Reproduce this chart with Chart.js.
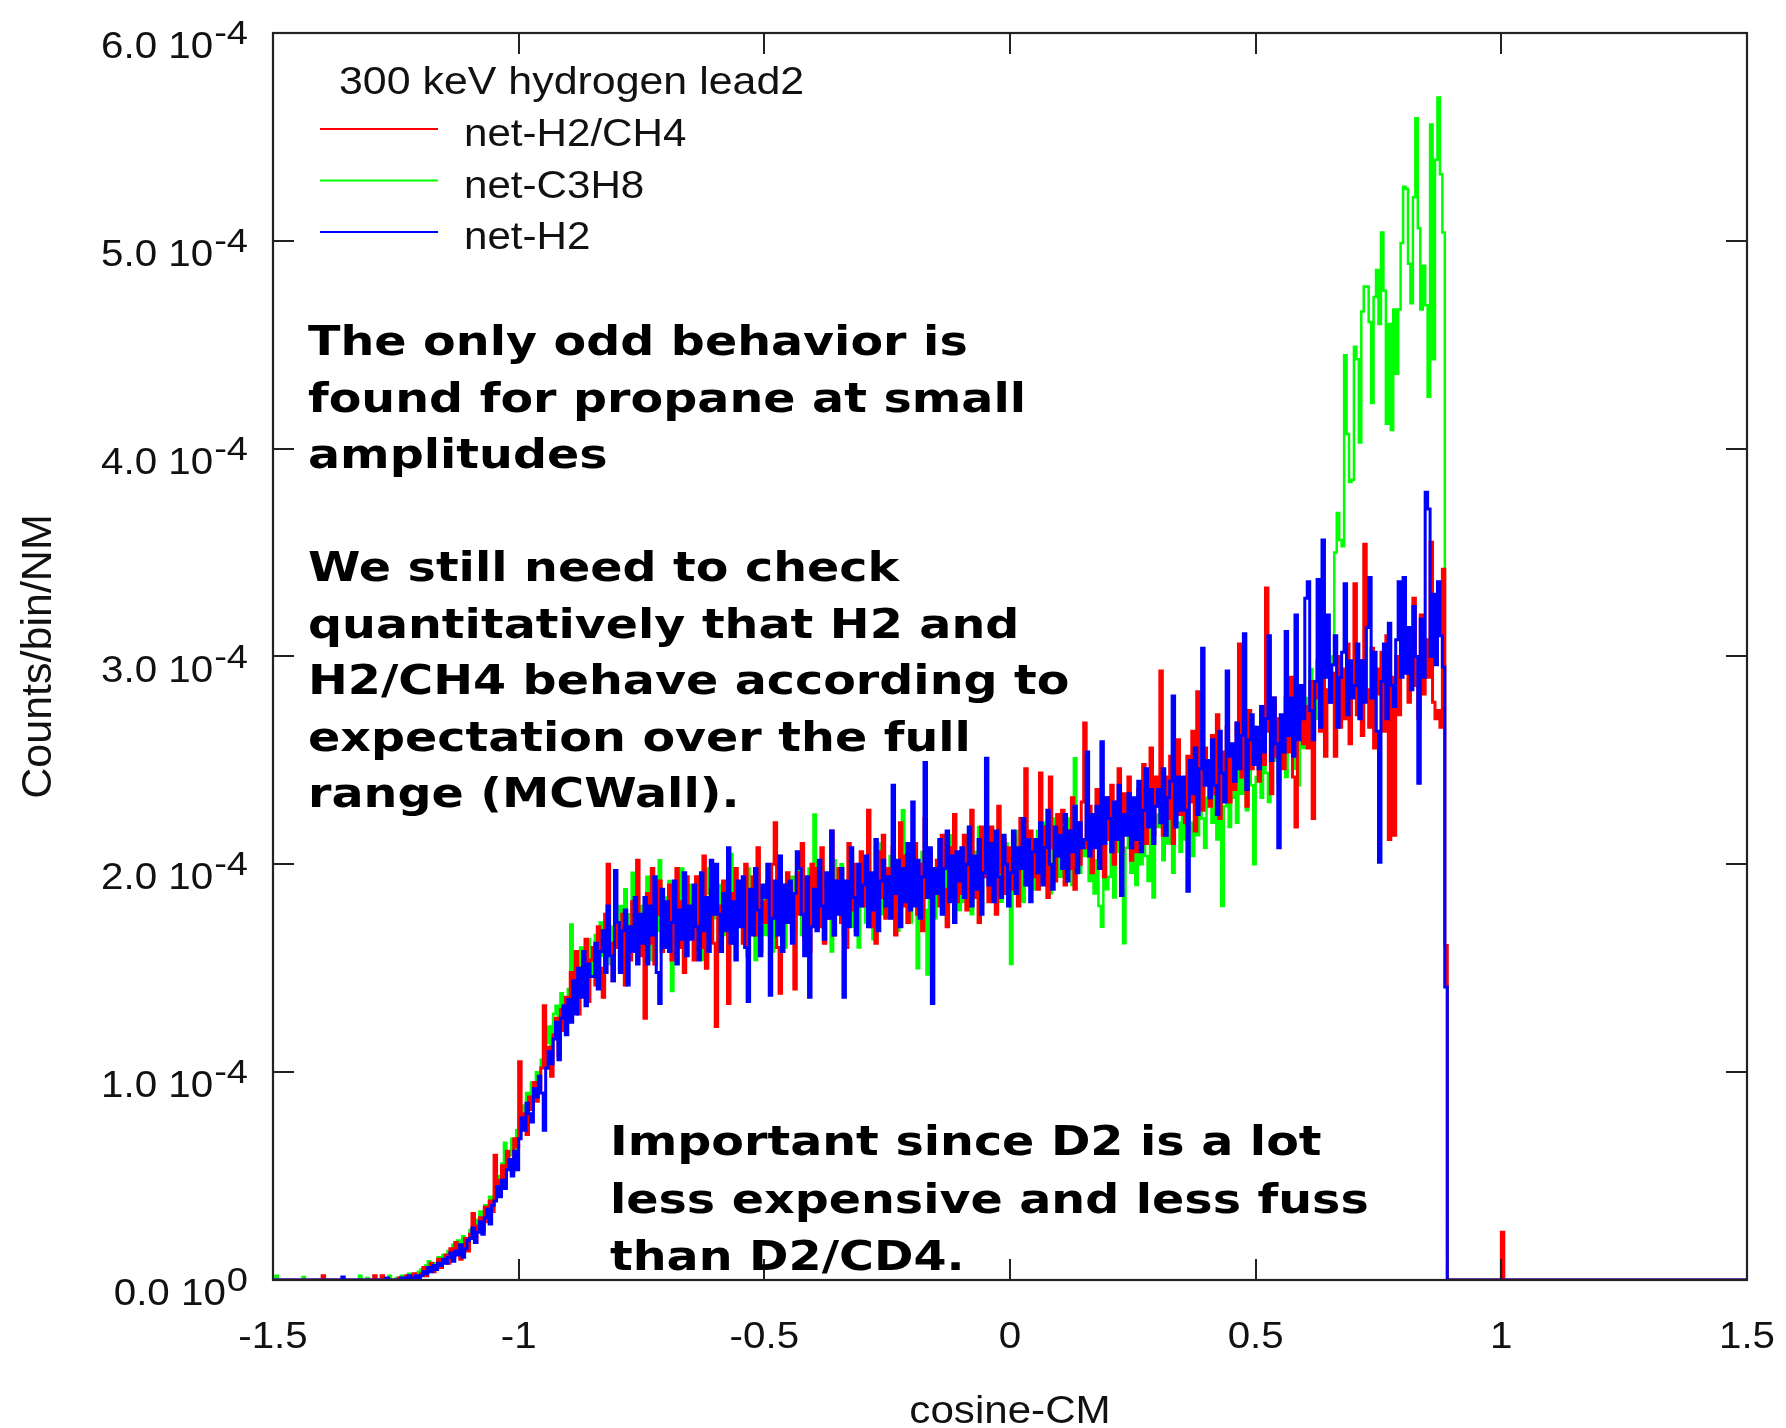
<!DOCTYPE html>
<html><head><meta charset="utf-8">
<script src="https://cdn.jsdelivr.net/npm/chart.js@4.4.1/dist/chart.umd.min.js"></script>
<style>html,body{margin:0;padding:0;background:#fff;} #wrap{width:1786px;height:1428px;position:relative;}</style>
</head><body><div id="wrap"><canvas id="c"></canvas></div>
<script>
// histogram bins: left edges start at cosStart, width cosStep; values in units of 1e-4
const cosStart = -1.5;
const cosStep = 0.005;
const valueUnit = 1e-4;

const netH2CH4 = [
0,0,0,0,0,0,0,0,0,0,
0,0,0,0,0,0,0,0,0,0,
0.02,0,0,0,0,0,0,0,0,0,
0,0,0,0,0,0,0,0,0,0,
0,0.02,0,0,0.02,0,0,0,0,0,
0,0.01,0,0,0.02,0,0.01,0.03,0.01,0.02,
0.03,0.06,0.02,0.05,0.08,0.04,0.07,0.10,0.06,0.09,
0.12,0.08,0.15,0.11,0.18,0.13,0.10,0.16,0.20,0.14,
0.22,0.32,0.18,0.26,0.30,0.24,0.35,0.28,0.38,0.33,
0.60,0.42,0.48,0.55,0.46,0.62,0.58,0.52,0.68,0.64,
1.05,0.74,0.80,0.70,0.88,0.82,0.95,0.86,0.92,1.02,
1.32,1.02,1.12,0.98,1.18,1.26,1.08,1.30,1.20,1.36,
1.26,1.48,1.36,1.58,1.28,1.50,1.40,1.64,1.34,1.54,
1.60,1.42,1.70,1.50,1.36,1.76,2.00,1.62,1.44,1.72,
1.60,1.50,1.76,1.42,1.70,1.54,1.82,1.64,2.02,1.56,
1.74,1.26,1.86,1.62,1.98,1.52,1.76,1.92,1.58,1.70,
1.66,1.90,1.54,1.78,1.98,1.60,1.82,1.48,1.94,1.70,
1.78,1.54,1.94,1.68,1.60,2.04,1.50,1.80,1.88,1.62,
1.22,1.80,1.66,1.92,1.70,1.33,1.86,1.62,1.98,1.76,
1.86,1.62,2.00,1.56,1.78,1.94,1.66,2.08,1.58,1.82,
1.72,1.92,1.66,2.00,2.20,1.60,1.38,1.88,1.74,1.96,
1.90,1.68,1.40,1.96,1.76,2.10,1.64,1.92,1.58,2.00,
1.76,1.98,1.70,2.08,1.62,1.88,1.74,2.16,1.66,1.92,
1.98,1.72,1.88,1.60,2.10,1.78,2.00,1.68,1.92,2.06,
1.80,2.02,2.26,1.70,1.94,1.62,2.06,1.84,2.14,1.74,
1.98,1.76,2.08,1.66,1.94,2.20,1.80,2.04,1.72,1.90,
1.86,2.10,1.76,2.00,1.68,2.22,1.84,2.06,1.74,1.98,
2.02,1.80,2.14,1.88,1.70,2.08,1.92,2.24,1.82,2.04,
1.86,2.14,1.78,2.04,2.26,1.84,2.00,1.72,2.18,1.94,
2.06,1.82,2.18,1.92,1.76,2.28,1.96,2.12,1.86,2.08,
1.88,2.14,2.00,1.80,2.22,2.02,2.46,1.90,2.16,1.94,
2.10,1.88,2.44,1.98,2.18,1.84,2.42,2.08,1.92,2.24,
2.04,2.26,1.90,2.16,1.98,2.32,1.88,2.20,2.00,2.30,
2.68,2.08,2.28,1.96,2.20,2.36,2.02,2.26,1.94,2.32,
2.12,2.38,2.00,2.30,2.46,2.06,2.34,2.16,2.42,2.02,
2.26,2.06,2.36,2.16,2.48,2.10,2.32,2.56,2.14,2.42,
2.28,2.93,2.14,2.42,2.22,2.52,2.10,2.40,2.60,2.24,
2.38,2.20,2.52,2.30,2.64,2.16,2.83,2.46,2.26,2.56,
2.46,2.28,2.62,2.34,2.72,2.22,2.54,2.38,2.66,2.30,
2.54,2.36,2.68,3.06,2.42,2.62,2.28,2.74,2.46,2.66,
2.58,2.40,2.74,2.48,3.33,2.64,2.34,2.80,2.52,2.70,
2.66,2.46,2.80,2.54,2.90,2.42,2.18,2.74,2.86,2.58,
2.76,2.56,2.88,2.22,2.80,2.98,2.64,2.92,2.52,2.84,
2.78,2.92,2.52,3.00,2.66,2.94,2.70,3.06,2.58,2.86,
3.35,2.72,2.98,2.62,3.54,2.84,2.66,3.04,2.56,2.94,
2.82,3.02,2.64,3.10,2.12,2.90,2.14,3.00,2.72,3.14,
2.94,3.14,2.78,3.06,3.28,2.86,2.70,3.20,2.82,3.08,
2.90,3.55,2.78,2.70,2.74,2.66,3.42,1.61
];

const netC3H8 = [
0,0.02,0,0,0,0,0,0,0,0,
0,0,0.015,0,0,0,0,0,0,0,
0,0,0,0,0,0,0,0,0,0,
0,0,0,0,0,0.02,0,0,0.01,0,
0,0,0,0,0,0,0,0.02,0,0,
0.01,0,0.02,0.01,0,0.03,0.02,0.01,0.03,0.04,
0.05,0.03,0.07,0.09,0.05,0.08,0.06,0.11,0.08,0.12,
0.10,0.14,0.12,0.17,0.13,0.19,0.15,0.21,0.16,0.18,
0.24,0.20,0.29,0.26,0.33,0.28,0.36,0.31,0.40,0.35,
0.44,0.50,0.47,0.56,0.66,0.53,0.60,0.68,0.62,0.72,
0.78,0.84,0.76,0.90,0.86,0.95,0.92,1.00,0.97,1.06,
1.06,1.14,1.22,1.10,1.28,1.32,1.20,1.38,1.26,1.34,
1.40,1.71,1.32,1.52,1.42,1.60,1.44,1.54,1.64,1.46,
1.54,1.66,1.46,1.72,1.56,1.68,1.80,1.52,1.70,1.60,
1.70,1.80,1.56,1.88,1.64,1.76,1.96,1.60,1.84,1.68,
1.80,1.64,1.94,1.70,1.54,1.90,1.68,2.02,1.60,1.84,
1.76,1.92,1.39,1.68,1.86,1.62,1.98,1.72,1.56,1.90,
1.68,1.84,1.58,1.94,1.74,1.54,1.86,1.98,1.64,1.80,
1.74,1.60,1.90,1.66,1.82,1.56,2.05,1.76,1.62,1.88,
1.80,1.92,1.60,1.98,1.70,1.86,1.54,1.94,1.72,1.66,
1.88,1.66,1.96,1.58,1.80,2.04,1.70,1.90,1.60,1.84,
1.74,1.94,1.68,1.90,2.04,1.66,1.86,1.56,1.98,1.78,
2.24,1.84,1.70,1.98,1.64,1.92,1.76,1.58,2.02,1.82,
1.78,2.00,1.66,1.92,1.76,2.06,1.70,1.94,1.60,1.88,
1.92,1.72,2.02,1.82,1.64,1.96,1.86,2.10,1.76,1.90,
1.86,2.04,1.74,1.96,1.68,1.92,2.26,1.80,2.00,1.72,
1.90,1.98,1.50,1.86,2.06,1.78,1.47,2.00,1.92,1.74,
1.94,2.10,1.80,2.02,1.72,1.96,2.14,1.84,2.04,1.78,
1.98,1.82,2.12,1.90,1.76,2.06,1.86,2.18,1.80,2.00,
2.02,2.14,1.84,2.04,1.90,2.20,1.82,1.98,2.10,1.86,
1.52,2.02,2.16,1.90,2.08,1.82,2.18,1.96,2.04,1.88,
2.04,2.16,1.90,2.20,1.96,2.08,1.86,2.22,2.04,1.94,
2.08,1.94,2.16,2.00,2.22,1.90,2.51,2.10,1.96,2.12,
2.04,2.14,1.92,2.10,1.86,2.02,1.80,1.70,1.98,1.88,
1.94,2.12,1.84,2.06,2.18,1.88,1.62,2.08,2.22,1.96,
2.12,1.90,2.22,2.00,2.26,2.04,1.92,2.18,1.84,2.24,
2.18,2.30,2.02,2.34,2.10,2.24,1.96,2.36,2.20,2.06,
2.26,2.12,2.38,2.20,2.04,2.32,2.14,2.42,2.22,2.08,
2.32,2.46,2.20,2.40,2.12,2.36,1.80,2.28,2.48,2.18,
2.32,2.46,2.20,2.52,2.34,2.56,2.26,2.48,2.38,2.00,
2.42,2.58,2.32,2.64,2.44,2.30,2.80,2.50,2.68,2.40,
2.52,2.66,2.42,2.74,2.84,2.46,2.62,2.38,2.72,2.56,
2.64,2.80,2.94,2.56,2.86,2.70,3.00,2.74,2.90,3.06,
2.90,3.00,3.50,3.69,3.56,3.53,4.45,4.07,3.84,3.85,
4.49,4.43,4.03,4.66,4.78,4.78,4.61,4.22,4.73,4.86,
4.60,5.04,4.76,4.12,4.60,4.09,4.67,4.36,4.67,4.99,
5.26,5.25,4.89,4.70,5.21,5.59,5.06,4.67,4.88,4.69,
4.25,5.56,4.43,5.39,5.69,5.32,5.04,1.41
];

const netH2 = [
0,0,0,0,0,0,0,0,0,0,
0,0,0,0,0,0,0,0,0,0,
0,0,0,0,0,0,0,0,0.015,0,
0,0,0,0,0,0,0,0,0,0,
0,0,0,0,0,0,0.01,0,0,0,
0,0,0.01,0,0.01,0.02,0,0.01,0.02,0.01,
0.02,0.04,0.03,0.06,0.04,0.07,0.05,0.08,0.07,0.10,
0.08,0.11,0.13,0.09,0.14,0.12,0.17,0.11,0.15,0.19,
0.20,0.25,0.18,0.23,0.28,0.22,0.30,0.34,0.27,0.36,
0.38,0.45,0.40,0.48,0.44,0.53,0.58,0.50,0.62,0.53,
0.68,0.78,0.72,0.85,0.80,0.76,0.92,0.88,0.98,0.90,
0.72,1.02,1.10,1.04,1.16,1.24,1.06,1.26,1.32,1.18,
1.35,1.24,1.44,1.28,1.50,1.36,1.58,1.32,1.52,1.46,
1.46,1.62,1.40,1.58,1.68,1.48,1.80,1.56,1.44,1.97,
1.72,1.48,1.68,1.78,1.42,1.70,1.58,1.84,1.52,1.76,
1.62,1.84,1.52,1.80,1.66,1.94,1.48,1.33,1.88,1.60,
1.82,1.58,1.72,1.92,1.52,1.78,1.64,1.96,1.56,1.80,
1.64,1.90,1.70,1.54,1.96,1.68,1.84,1.58,2.02,1.76,
2.00,1.76,1.58,1.86,1.68,2.08,1.62,1.82,1.54,1.92,
1.70,1.94,1.60,1.34,1.88,1.66,1.98,1.78,1.56,1.90,
1.84,2.00,1.37,1.74,1.92,1.66,2.04,1.58,1.90,1.72,
1.92,1.62,1.86,2.06,1.98,1.76,1.56,1.94,1.36,1.70,
1.88,1.68,2.02,1.80,1.64,1.96,1.74,2.16,1.66,1.92,
1.76,1.98,1.36,1.92,1.70,2.08,1.84,1.66,2.00,1.80,
1.90,2.04,1.70,1.96,1.78,2.12,1.68,1.92,2.02,1.80,
1.94,1.74,2.38,1.86,2.02,1.70,1.98,1.82,2.10,1.78,
2.30,1.80,2.02,1.74,1.94,2.49,1.84,2.08,1.33,1.98,
1.86,2.12,1.76,1.98,2.16,1.82,2.04,1.72,2.06,1.92,
2.08,1.84,2.00,2.18,1.80,2.04,1.88,2.12,1.76,1.96,
2.51,1.90,2.10,1.82,2.16,1.94,1.84,2.14,2.00,1.80,
1.96,2.16,1.86,2.08,1.98,2.22,1.90,2.12,1.82,2.06,
2.12,1.96,2.20,1.90,2.08,2.26,2.00,1.88,2.18,2.04,
2.14,1.98,2.24,1.92,2.16,2.06,2.28,1.96,2.20,2.08,
2.12,2.54,2.04,2.24,2.08,2.28,1.98,2.59,2.10,2.32,
2.22,2.06,2.30,2.12,2.38,1.85,2.24,2.14,2.34,2.08,
2.32,2.12,2.40,2.06,2.26,2.46,2.18,2.36,2.10,2.28,
2.36,2.20,2.46,2.14,2.32,2.40,2.81,2.18,2.42,2.26,
2.42,2.26,1.87,2.50,2.34,2.56,2.24,2.46,3.04,2.38,
2.50,2.32,2.60,2.38,2.24,2.64,2.44,2.30,2.93,2.52,
2.58,2.40,2.68,2.46,2.62,3.11,2.36,2.60,2.72,2.48,
2.66,2.46,2.76,2.54,2.70,3.10,2.50,2.80,2.58,2.08,
2.72,2.54,3.12,2.62,2.80,2.52,3.20,2.60,2.86,2.70,
3.28,3.36,2.74,2.60,2.88,3.37,2.66,3.56,2.90,3.20,
2.78,2.96,3.10,2.66,2.90,3.02,3.35,2.72,2.98,2.80,
2.86,3.06,2.70,2.98,2.78,3.14,3.38,2.80,3.02,2.64,
2.01,2.88,3.06,2.70,3.16,2.86,2.76,3.08,3.36,2.90,
3.38,2.92,3.14,2.84,3.24,3.00,2.39,3.18,2.90,3.79,
3.71,3.00,3.30,2.96,3.36,3.10,2.95,1.41
];

// isolated bin near cos = 1
const spikeCos = 1.0;
const spikeValues = [0.23, 0.03, 0];   // net-H2/CH4, net-C3H8, net-H2

const seriesLabels = ['net-H2/CH4', 'net-C3H8', 'net-H2'];
const seriesColors = ['#ff0000', '#00ff00', '#0000ff'];
const seriesValues = [netH2CH4, netC3H8, netH2];

const xTicks = [-1.5, -1, -0.5, 0, 0.5, 1, 1.5];
const xTickLabels = ['-1.5', '-1', '-0.5', '0', '0.5', '1', '1.5'];
const yTicks = [0, 1, 2, 3, 4, 5, 6];
const yTickMantissas = ['0.0', '1.0', '2.0', '3.0', '4.0', '5.0', '6.0'];
const yTickExponents = ['0', '-4', '-4', '-4', '-4', '-4', '-4'];

const xTitle = 'cosine-CM';
const yTitle = 'Counts/bin/NM';
const legendTitle = '300 keV hydrogen lead2';
const noteBlock1 = [
  'The only odd behavior is',
  'found for propane at small',
  'amplitudes',
  '',
  'We still need to check',
  'quantitatively that H2 and',
  'H2/CH4 behave according to',
  'expectation over the full',
  'range (MCWall).'
];
const noteBlock2 = [
  'Important since D2 is a lot',
  'less expensive and less fuss',
  'than D2/CD4.'
];

function toPoints(vals, spike) {
  const pts = vals.map((v, i) => ({ x: cosStart + i * cosStep, y: v * valueUnit }));
  pts.push({ x: cosStart + vals.length * cosStep, y: 0 });
  pts.push({ x: spikeCos, y: spike * valueUnit });
  pts.push({ x: spikeCos + cosStep, y: 0 });
  pts.push({ x: xTicks[xTicks.length - 1], y: 0 });
  return pts;
}

const lineWidths = [3, 2.5, 3];
const drawOrders = [2, 3, 1];

const datasets = seriesValues.map((vals, k) => ({
  label: seriesLabels[k],
  data: toPoints(vals, spikeValues[k]),
  borderColor: seriesColors[k],
  backgroundColor: seriesColors[k],
  borderWidth: lineWidths[k],
  pointRadius: 0,
  fill: false,
  stepped: 'before',
  tension: 0,
  order: drawOrders[k],
  borderJoinStyle: 'miter',
  borderCapStyle: 'butt'
}));

function drawText(ctx, text, x, y, font, align, sx, color) {
  ctx.save();
  ctx.font = font;
  ctx.fillStyle = color || '#111';
  ctx.textBaseline = 'alphabetic';
  ctx.textAlign = 'left';
  const w = ctx.measureText(text).width * sx;
  let x0 = x;
  if (align === 'center') x0 = x - w / 2;
  else if (align === 'right') x0 = x - w;
  ctx.translate(x0, y);
  ctx.scale(sx, 1);
  ctx.fillText(text, 0, 0);
  ctx.restore();
  return w;
}

const decorPlugin = {
  id: 'decor',
  afterDraw(chart) {
    const ctx = chart.ctx;
    const a = chart.chartArea;
    const xs = chart.scales.x, ys = chart.scales.y;
    const tickLen = 21;
    ctx.save();
    // frame
    ctx.strokeStyle = '#222';
    ctx.lineWidth = 2.2;
    ctx.strokeRect(a.left, a.top, a.right - a.left, a.bottom - a.top);
    // ticks (inside, mirrored)
    ctx.lineWidth = 2;
    ctx.beginPath();
    xTicks.forEach(c => {
      const px = Math.round(xs.getPixelForValue(c));
      ctx.moveTo(px, a.bottom); ctx.lineTo(px, a.bottom - tickLen);
      ctx.moveTo(px, a.top); ctx.lineTo(px, a.top + tickLen);
    });
    yTicks.forEach(v => {
      const py = Math.round(ys.getPixelForValue(v * valueUnit));
      ctx.moveTo(a.left, py); ctx.lineTo(a.left + tickLen, py);
      ctx.moveTo(a.right, py); ctx.lineTo(a.right - tickLen, py);
    });
    ctx.stroke();
    ctx.restore();

    const tickFont = '36px "Liberation Sans", Arial, sans-serif';
    const supFont = '34px "Liberation Sans", Arial, sans-serif';
    // y tick labels with superscript exponent
    yTicks.forEach((v, i) => {
      const py = ys.getPixelForValue(v * valueUnit);
      const right = a.left - 25;
      const wSup = drawText(ctx, yTickExponents[i], right, py + 11, supFont, 'right', 1.12);
      drawText(ctx, yTickMantissas[i] + ' 10', right - wSup - 1, py + 25, tickFont, 'right', 1.12);
    });
    // x tick labels
    xTicks.forEach((c, i) => {
      const px = xs.getPixelForValue(c);
      drawText(ctx, xTickLabels[i], px, a.bottom + 68, tickFont, 'center', 1.12);
    });
    // axis titles
    drawText(ctx, xTitle, (a.left + a.right) / 2, a.bottom + 143, '39px "Liberation Sans", Arial, sans-serif', 'center', 1.08);
    ctx.save();
    ctx.translate(51, (a.top + a.bottom) / 2);
    ctx.rotate(-Math.PI / 2);
    ctx.font = '43px "Liberation Sans", Arial, sans-serif';
    ctx.fillStyle = '#111';
    ctx.textAlign = 'center';
    ctx.textBaseline = 'alphabetic';
    ctx.fillText(yTitle, 0, 0);
    ctx.restore();

    // legend
    const lgX = a.left + 66, lgTitleY = a.top + 61;
    drawText(ctx, legendTitle, lgX, lgTitleY, '39px "Liberation Sans", Arial, sans-serif', 'left', 1.1);
    const itemY0 = a.top + 96, itemGap = 51.5;
    chart.data.datasets.forEach((ds, k) => {
      const y = itemY0 + k * itemGap;
      ctx.save();
      ctx.strokeStyle = ds.borderColor;
      ctx.lineWidth = 2.2;
      ctx.beginPath();
      ctx.moveTo(a.left + 47, y); ctx.lineTo(a.left + 165, y);
      ctx.stroke();
      ctx.restore();
      drawText(ctx, ds.label, a.left + 191, y + 17, '39px "Liberation Sans", Arial, sans-serif', 'left', 1.08);
    });

    // annotations
    const noteFont = 'bold 41px "DejaVu Sans", Verdana, sans-serif';
    noteBlock1.forEach((line, i) => {
      if (line) drawText(ctx, line, a.left + 35, a.top + 322 + i * 56.5, noteFont, 'left', 1.16, '#000');
    });
    noteBlock2.forEach((line, i) => {
      if (line) drawText(ctx, line, a.left + 337, a.top + 1122 + i * 57.5, noteFont, 'left', 1.16, '#000');
    });
  }
};

new Chart(document.getElementById('c'), {
  type: 'line',
  data: { datasets },
  options: {
    responsive: true,
    maintainAspectRatio: false,
    animation: false,
    events: [],
    layout: { padding: { left: 0, right: 39, top: 33, bottom: 0 } },
    plugins: { legend: { display: false }, tooltip: { enabled: false } },
    scales: {
      x: {
        type: 'linear', min: -1.5, max: 1.5,
        ticks: { display: false, stepSize: 0.5 },
        grid: { display: false }, border: { display: false },
        afterFit: (s) => { s.height = 148; }
      },
      y: {
        type: 'linear', min: 0, max: 6e-4,
        ticks: { display: false, stepSize: 1e-4 },
        grid: { display: false }, border: { display: false },
        afterFit: (s) => { s.width = 273; }
      }
    }
  },
  plugins: [decorPlugin]
});
</script>
</body></html>
